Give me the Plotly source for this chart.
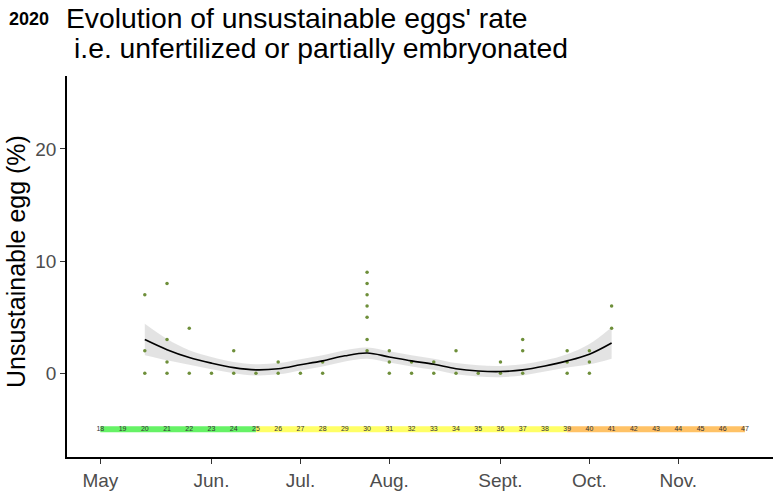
import plotly.graph_objects as go

# ---------------- data ----------------
# observed points (week number, unsustainable egg %)
point_weeks = [20, 20, 20,
               21, 21, 21, 21,
               22, 22,
               23,
               24, 24,
               25,
               26, 26,
               27,
               28, 28,
               30, 30, 30, 30, 30, 30, 30,
               31, 31, 31,
               32, 32,
               33, 33,
               34, 34,
               35,
               36, 36,
               37, 37, 37,
               39, 39, 39,
               40, 40, 40,
               41, 41]
point_values = [7, 2, 0,
                8, 3, 1, 0,
                4, 0,
                0,
                2, 0,
                0,
                1, 0,
                0,
                1, 0,
                9, 8, 7, 6, 5, 3, 2,
                2, 1, 0,
                1, 0,
                1, 0,
                2, 0,
                0,
                1, 0,
                3, 2, 0,
                2, 1, 0,
                2, 1, 0,
                6, 4]

# smoothed trend and confidence band
smooth_weeks = list(range(20, 42))
smooth_fit = [3.0, 2.1, 1.4, 0.9, 0.5, 0.3, 0.4, 0.75, 1.1, 1.55, 1.8,
              1.45, 1.1, 0.8, 0.4, 0.2, 0.15, 0.3, 0.65, 1.1, 1.7, 2.7]
smooth_upper = [4.4, 3.05, 2.05, 1.45, 1.0, 0.8, 0.9, 1.25, 1.6, 2.05, 2.3,
                1.95, 1.6, 1.3, 0.9, 0.7, 0.65, 0.8, 1.15, 1.7, 2.6, 4.1]
smooth_lower = [1.6, 1.15, 0.75, 0.35, 0.0, -0.2, -0.1, 0.25, 0.6, 1.05, 1.3,
                0.95, 0.6, 0.3, -0.1, -0.3, -0.35, -0.2, 0.15, 0.5, 0.8, 1.3]

# week strip
strip_weeks = list(range(18, 48))
strip_level = -5
season_segments = [(18, 25, "#66F266"), (25, 39, "#FFFF66"), (39, 47, "#FFC266")]

# month ticks (in week units)
month_ticks = [18, 23, 27, 31, 36, 40, 44]
month_labels = ["May", "Jun.", "Jul.", "Aug.", "Sept.", "Oct.", "Nov."]
y_ticks = [0, 10, 20]

FONT = "Liberation Sans, Arial, sans-serif"

fig = go.Figure()

# season strip
for x0, x1, col in season_segments:
    fig.add_trace(go.Scatter(x=[x0, x1], y=[strip_level, strip_level], mode="lines",
                             line=dict(color=col, width=6), hoverinfo="skip",
                             showlegend=False))
fig.add_trace(go.Scatter(x=strip_weeks, y=[strip_level] * len(strip_weeks), mode="text",
                         text=[str(w) for w in strip_weeks],
                         textfont=dict(family=FONT, size=7, color="#333333"),
                         showlegend=False, hoverinfo="skip"))

# confidence band
fig.add_trace(go.Scatter(x=smooth_weeks, y=smooth_upper, mode="lines",
                         line=dict(width=0, shape="spline"), showlegend=False,
                         hoverinfo="skip"))
fig.add_trace(go.Scatter(x=smooth_weeks, y=smooth_lower, mode="lines",
                         line=dict(width=0, shape="spline"), fill="tonexty",
                         fillcolor="rgba(153,153,153,0.28)", showlegend=False,
                         hoverinfo="skip"))

# points
fig.add_trace(go.Scatter(x=point_weeks, y=point_values, mode="markers",
                         marker=dict(color="#6E8F3A", size=3.5), showlegend=False))

# trend line
fig.add_trace(go.Scatter(x=smooth_weeks, y=smooth_fit, mode="lines",
                         line=dict(color="black", width=1.6, shape="spline"),
                         showlegend=False))

L, R, T, B = 67, 0, 76, 38
W, H = 773, 495
pw, ph = W - L - R, H - T - B

def px(x):
    return (x - L) / pw

def py(y):
    return (H - B - y) / ph

fig.update_layout(
    width=W, height=H,
    margin=dict(l=L, r=R, t=T, b=B, autoexpand=False),
    plot_bgcolor="white", paper_bgcolor="white",
    font=dict(family=FONT),
    xaxis=dict(range=[16.5, 48.26], showgrid=False, zeroline=False,
               showline=True, linecolor="black", linewidth=1.5,
               ticks="outside", ticklen=5, tickcolor="#333333", tickwidth=1.2,
               tickvals=month_ticks, ticktext=month_labels,
               tickfont=dict(family=FONT, size=19, color="#4D4D4D")),
    yaxis=dict(range=[-7.47, 26.5], showgrid=False, zeroline=False,
               showline=True, linecolor="black", linewidth=1.5,
               ticks="outside", ticklen=5, tickcolor="#333333", tickwidth=1.2,
               tickvals=y_ticks, ticktext=[str(v) for v in y_ticks],
               tickfont=dict(family=FONT, size=19, color="#4D4D4D")),
    annotations=[
        dict(text="<b>2020</b>", x=px(7), y=py(19), xref="paper", yref="paper",
             xanchor="left", yanchor="middle", showarrow=False,
             font=dict(family=FONT, size=18, color="black")),
        dict(text="Evolution of unsustainable eggs' rate", x=px(64), y=py(18),
             xref="paper", yref="paper", xanchor="left", yanchor="middle",
             showarrow=False, font=dict(family=FONT, size=28.3, color="black")),
        dict(text="i.e. unfertilized or partially embryonated", x=px(72), y=py(48),
             xref="paper", yref="paper", xanchor="left", yanchor="middle",
             showarrow=False, font=dict(family=FONT, size=28.3, color="black")),
        dict(text="Unsustainable egg (%)", x=px(16), y=py(262), xref="paper",
             yref="paper", xanchor="center", yanchor="middle", textangle=-90,
             showarrow=False, font=dict(family=FONT, size=25, color="black")),
    ],
)

fig.write_html("out.html", config={"displayModeBar": False},
               post_script="document.body.style.margin='0';document.body.style.padding='0';")
